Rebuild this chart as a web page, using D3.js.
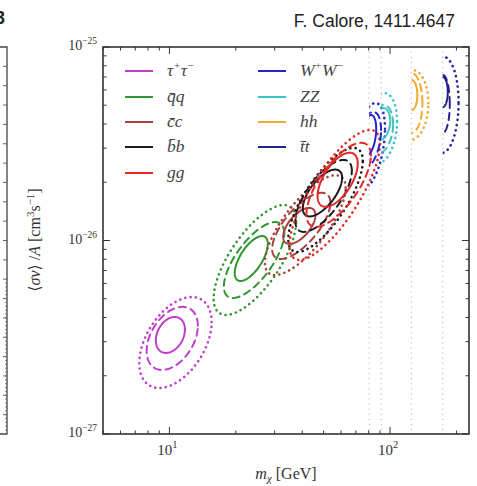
<!DOCTYPE html>
<html>
<head>
<meta charset="utf-8">
<script src="https://cdn.jsdelivr.net/npm/d3@7"></script>
<style>
  body { margin: 0; background: #fff; }
  svg { display: block; }
</style>
</head>
<body>
<svg id="chart" width="477" height="486"></svg>
<script>
// channels, in legend order
var channelLabels = ["τ+τ−", "q̄q", "c̄c", "b̄b", "gg", "W+W−", "ZZ", "hh", "t̄t"];
// kinematic thresholds (GeV), light channels have none
var thresholdMass = [null, null, null, null, null, 80.4, 91.2, 125, 173.3];

// contour centres: mass (GeV), <sigma v> (1e-26 cm^3/s); one row per channel, [1s, 2s, 3s]
var centreMass = [
    [10.1, 10.3, 10.65],
    [23.5, 24.2, 24.4],
    [38.8, 39.6, 41.3],
    [49.4, 50.0, 51.0],
    [57.9, 58.5, 56.1],
    [80.4, 80.4, 80.4],
    [91.2, 91.2, 91.2],
    [125, 125, 125],
    [173.3, 173.3, 173.3]
];
var centreSigmaV = [
    [0.325, 0.312, 0.297],
    [0.807, 0.793, 0.793],
    [1.19, 1.19, 1.20],
    [1.76, 1.70, 1.62],
    [2.06, 1.94, 1.72],
    [3.51, 3.31, 3.08],
    [4.00, 3.77, 3.81],
    [5.65, 5.14, 5.02],
    [5.85, 5.08, 5.02]
];
// half widths of each contour, in decades of mass and of <sigma v>
var spreadMass = [
    [0.066, 0.116, 0.164],
    [0.075, 0.137, 0.187],
    [0.073, 0.132, 0.183],
    [0.089, 0.128, 0.169],
    [0.091, 0.146, 0.205],
    [0.032, 0.054, 0.072],
    [0.041, 0.054, 0.072],
    [0.027, 0.050, 0.077],
    [0.023, 0.032, 0.072]
];
var spreadSigmaV = [
    [0.093, 0.163, 0.235],
    [0.116, 0.196, 0.284],
    [0.093, 0.171, 0.258],
    [0.121, 0.186, 0.269],
    [0.140, 0.217, 0.336],
    [0.103, 0.145, 0.222],
    [0.083, 0.124, 0.181],
    [0.078, 0.155, 0.181],
    [0.078, 0.150, 0.248]
];
var correlation = [
    [0.30, 0.40, 0.45],
    [0.65, 0.70, 0.70],
    [0.60, 0.70, 0.75],
    [0.65, 0.70, 0.75],
    [0.60, 0.70, 0.78],
    [0.30, 0.35, 0.40],
    [0.20, 0.20, 0.20],
    [0.00, 0.00, 0.05],
    [0.00, 0.00, 0.05]
];

var xTickValues = [10, 100];
var yTickValues = [1e-27, 1e-26, 1e-25];
var xTickExp = ["1", "2"];
var yTickExp = ["−27", "−26", "−25"];

var colors = ["#c23ccc", "#2f962f", "#a8403c", "#1a1a1a", "#e42727", "#2626cc", "#3cc4c4", "#f2a930", "#22228c"];
var levelDash = ["none", "7,5", "0.1,5.2"];
var levelWidth = [2, 2, 2.6];

var svg = d3.select("#chart");
var pLeft = 103, pRight = 469, pTop = 47, pBottom = 434;
var serif = "'Liberation Serif', 'DejaVu Serif', serif";

var x = d3.scaleLog().domain([5, 228]).range([pLeft, pRight]);
var y = d3.scaleLog().domain([1e-27, 1e-25]).range([pBottom, pTop]);

var defs = svg.append("defs");
defs.append("clipPath").attr("id", "plotClip")
    .append("rect")
    .attr("x", pLeft).attr("y", pTop)
    .attr("width", pRight - pLeft).attr("height", pBottom - pTop);

// header text
svg.append("text")
    .attr("x", 455).attr("y", 27)
    .attr("text-anchor", "end")
    .attr("font-family", "'Liberation Sans', Arial, sans-serif")
    .attr("font-size", "17.5px")
    .attr("fill", "#222")
    .text("F. Calore, 1411.4647");

// cut-off bits of the neighbouring panel
svg.append("text")
    .attr("x", 5).attr("y", 24)
    .attr("text-anchor", "end")
    .attr("font-family", "'Liberation Sans', Arial, sans-serif")
    .attr("font-weight", "bold")
    .attr("font-size", "18px")
    .attr("fill", "#222")
    .text("3");
svg.append("path")
    .attr("d", `M0,${pTop}H7V${pBottom}H0`)
    .attr("fill", "none").attr("stroke", "#444").attr("stroke-width", 1.3);
var leftPanel = d3.scaleLinear().domain([0, 20]).range([pBottom, pTop]);
var leftTicks = d3.range(1, 20);
svg.selectAll(".lp-tick").data(leftTicks).join("line")
    .attr("class", "lp-tick")
    .attr("x1", 3).attr("x2", 7)
    .attr("y1", d => leftPanel(d)).attr("y2", d => leftPanel(d))
    .attr("stroke", "#555").attr("stroke-width", 0.9);
var leftDense = d3.range(1, 40);
svg.selectAll(".lp-dense").data(leftDense).join("line")
    .attr("class", "lp-dense")
    .attr("x1", 5).attr("x2", 7)
    .attr("y1", d => leftPanel(d * 0.2)).attr("y2", d => leftPanel(d * 0.2))
    .attr("stroke", "#666").attr("stroke-width", 0.8);

// threshold lines
svg.selectAll(".threshold").data(thresholdMass.filter(d => d))
    .join("line")
    .attr("class", "threshold")
    .attr("x1", d => x(d)).attr("x2", d => x(d))
    .attr("y1", pTop).attr("y2", pBottom)
    .attr("stroke", "#bdbdbd")
    .attr("stroke-width", 1.3)
    .attr("stroke-linecap", "round")
    .attr("stroke-dasharray", "0.1,5");

// contours
var line = d3.line().curve(d3.curveLinearClosed);
var angles = d3.range(0, 2 * Math.PI, Math.PI / 90);

function contourPoints(c, l) {
    var lm = Math.log10(centreMass[c][l]);
    var ls = Math.log10(centreSigmaV[c][l] * 1e-26);
    var r = correlation[c][l];
    return angles.map(function (t) {
        var u = Math.cos(t), v = Math.sin(t);
        var px = lm + spreadMass[c][l] * u;
        var py = ls + spreadSigmaV[c][l] * (r * u + Math.sqrt(1 - r * r) * v);
        return [x(Math.pow(10, px)), y(Math.pow(10, py))];
    });
}

var plot = svg.append("g").attr("clip-path", "url(#plotClip)");
channelLabels.forEach(function (label, c) {
    var g = plot.append("g");
    if (thresholdMass[c]) {
        var id = "thr" + c;
        defs.append("clipPath").attr("id", id)
            .append("rect")
            .attr("x", x(thresholdMass[c])).attr("y", pTop)
            .attr("width", pRight - x(thresholdMass[c])).attr("height", pBottom - pTop);
        g.attr("clip-path", "url(#" + id + ")");
    }
    [2, 1, 0].forEach(function (l) {
        g.append("path")
            .attr("d", line(contourPoints(c, l)))
            .attr("fill", "none")
            .attr("stroke", colors[c])
            .attr("stroke-width", levelWidth[l])
            .attr("stroke-linecap", "round")
            .attr("stroke-dasharray", levelDash[l]);
    });
});

// frame
svg.append("rect")
    .attr("x", pLeft).attr("y", pTop)
    .attr("width", pRight - pLeft).attr("height", pBottom - pTop)
    .attr("fill", "none").attr("stroke", "#333").attr("stroke-width", 1.6);

// ticks, inward on all sides
var xMinor = [5, 6, 7, 8, 9, 20, 30, 40, 50, 60, 70, 80, 90, 200];
var yMinor = [];
[1e-27, 1e-26].forEach(function (base) {
    for (var k = 2; k <= 9; k++) yMinor.push(base * k);
});

function xTicks(values, len, cls) {
    svg.selectAll("." + cls).data(values).join("path")
        .attr("class", cls)
        .attr("d", d => `M${x(d)},${pBottom}v${-len}M${x(d)},${pTop}v${len}`)
        .attr("stroke", "#333").attr("stroke-width", 1);
}
function yTicks(values, len, cls) {
    svg.selectAll("." + cls).data(values).join("path")
        .attr("class", cls)
        .attr("d", d => `M${pLeft},${y(d)}h${len}M${pRight},${y(d)}h${-len}`)
        .attr("stroke", "#333").attr("stroke-width", 1);
}
xTicks(xTickValues, 7, "xmaj");
xTicks(xMinor, 3.5, "xmin");
yTicks(yTickValues, 7, "ymaj");
yTicks(yMinor, 3.5, "ymin");

// tick labels
var xl = svg.selectAll(".xlab").data(xTickValues).join("text")
    .attr("class", "xlab")
    .attr("x", d => x(d) - 2).attr("y", 455)
    .attr("text-anchor", "middle")
    .attr("font-family", serif).attr("font-size", "15px").attr("fill", "#333");
xl.append("tspan").text("10");
xl.append("tspan").attr("dy", -7).attr("font-size", "10.5px").text((d, i) => xTickExp[i]);

var yl = svg.selectAll(".ylab").data(yTickValues).join("text")
    .attr("class", "ylab")
    .attr("x", 97).attr("y", d => y(d) + 3)
    .attr("text-anchor", "end")
    .attr("font-family", serif).attr("font-size", "14px").attr("fill", "#333");
yl.append("tspan").text("10");
yl.append("tspan").attr("dy", -6).attr("font-size", "9.5px").text((d, i) => yTickExp[i]);

// axis titles
var xt = svg.append("text")
    .attr("x", 286).attr("y", 479)
    .attr("text-anchor", "middle")
    .attr("font-family", serif).attr("font-size", "16px").attr("fill", "#333");
xt.append("tspan").attr("font-style", "italic").text("m");
xt.append("tspan").attr("font-style", "italic").attr("font-size", "11px").attr("dy", 3).text("χ");
xt.append("tspan").attr("dy", -3).text(" [GeV]");

var yt = svg.append("text")
    .attr("transform", "translate(40,240) rotate(-90)")
    .attr("text-anchor", "middle")
    .attr("font-family", serif).attr("font-size", "16px").attr("fill", "#333");
yt.append("tspan").text("⟨");
yt.append("tspan").attr("font-style", "italic").text("σv");
yt.append("tspan").text("⟩ /");
yt.append("tspan").attr("font-style", "italic").text("A");
yt.append("tspan").text(" [cm");
yt.append("tspan").attr("dy", -6).attr("font-size", "11px").text("3");
yt.append("tspan").attr("dy", 6).text("s");
yt.append("tspan").attr("dy", -6).attr("font-size", "11px").text("−1");
yt.append("tspan").attr("dy", 6).text("]");

// legend, two columns
var legendRows = [71, 97, 122, 147, 173];
var legend = svg.append("g");
channelLabels.forEach(function (label, c) {
    var col = c < 5 ? 0 : 1;
    var row = c < 5 ? c : c - 5;
    var lx = col === 0 ? 125 : 258;
    var ly = legendRows[row];
    legend.append("line")
        .attr("x1", lx).attr("x2", lx + 28)
        .attr("y1", ly).attr("y2", ly)
        .attr("stroke", colors[c]).attr("stroke-width", 2);
    var t = legend.append("text")
        .attr("x", lx + 42).attr("y", ly + 5)
        .attr("font-family", serif).attr("font-style", "italic")
        .attr("font-size", "17.5px").attr("fill", "#444");
    var sup = label.match(/^([^+−])([+−])([^+−])([+−])$/);
    if (sup) {
        t.append("tspan").text(sup[1]);
        t.append("tspan").attr("dy", -7).attr("font-size", "11px").text(sup[2]);
        t.append("tspan").attr("dy", 7).text(sup[3]);
        t.append("tspan").attr("dy", -7).attr("font-size", "11px").text(sup[4]);
    } else {
        t.text(label);
    }
});
</script>
</body>
</html>
